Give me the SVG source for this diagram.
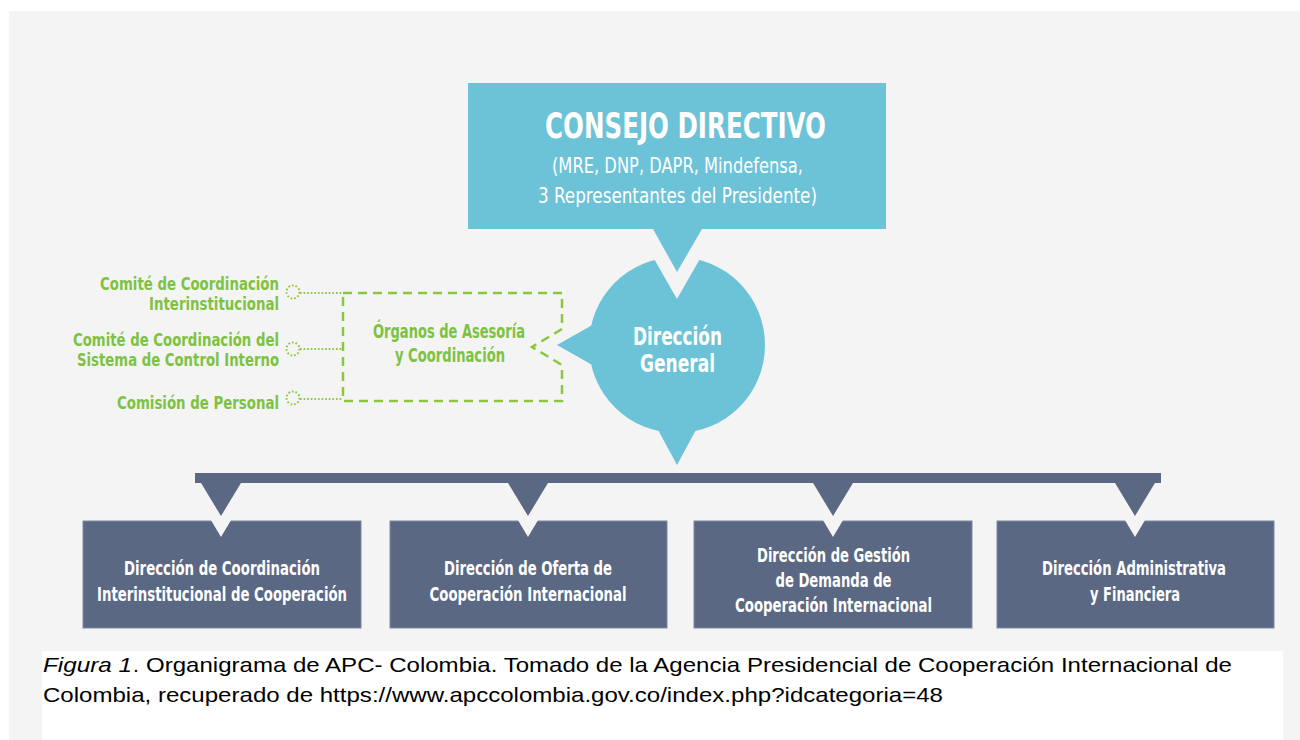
<svg xmlns="http://www.w3.org/2000/svg" width="1300" height="740" viewBox="0 0 1300 740">
<style>
.teal{fill:#6cc3d8}
.dark{fill:#5b6883}
.bg{fill:#f4f4f4}
.cond{font-family:'Liberation Sans Narrow','DejaVu Sans Condensed','Liberation Sans',sans-serif;font-weight:bold}
.white{fill:#ffffff}
.green{fill:#7dc242}
.box{fill:#5b6883;stroke:#7e89a0;stroke-width:1}
.dash{fill:none;stroke:#8cc63f;stroke-width:2.5;stroke-dasharray:9 6}
.dot{fill:none;stroke:#8cc63f;stroke-width:2;stroke-dasharray:1.6 2}
.cap{font-family:'Liberation Sans',Arial,sans-serif;font-size:21px;fill:#000}
</style>
<rect x="0" y="0" width="1300" height="740" fill="#ffffff"/>
<rect x="9" y="11" width="1291" height="729" class="bg"/>

<g id="direccion-general">
<circle cx="677" cy="345" r="88" class="teal"/>
<polygon points="557,345 610,315 610,375" class="teal"/>
<polygon points="677,465 650,415 704,415" class="teal"/>
<polygon points="637,229 717,229 677,299" class="bg"/>
<text x="677.5" y="345" text-anchor="middle" class="cond white" font-size="25" textLength="89" lengthAdjust="spacingAndGlyphs">Dirección</text>
<text x="677.5" y="372" text-anchor="middle" class="cond white" font-size="25" textLength="75" lengthAdjust="spacingAndGlyphs">General</text>
</g>

<g id="consejo-directivo">
<path d="M468,83 H886 V229 H702 L677,272 L653,229 H468 Z" class="teal"/>
<text x="685.5" y="138" text-anchor="middle" class="cond white" font-size="36" textLength="281" lengthAdjust="spacingAndGlyphs">CONSEJO DIRECTIVO</text>
<text x="677.5" y="173" text-anchor="middle" class="cond white" font-size="21" style="font-weight:normal" textLength="251" lengthAdjust="spacingAndGlyphs">(MRE, DNP, DAPR, Mindefensa,</text>
<text x="677.5" y="203" text-anchor="middle" class="cond white" font-size="21" style="font-weight:normal" textLength="279" lengthAdjust="spacingAndGlyphs">3 Representantes del Presidente)</text>
</g>

<g id="organos">
<path d="M343,293 H562 V329 L532,347 L562,365 V401 H343 Z" class="dash"/>
<text x="449" y="338" text-anchor="middle" class="cond green" font-size="19" textLength="152" lengthAdjust="spacingAndGlyphs">Órganos de Asesoría</text>
<text x="450" y="362" text-anchor="middle" class="cond green" font-size="19" textLength="110" lengthAdjust="spacingAndGlyphs">y Coordinación</text>
</g>

<g id="comite-interinstitucional">
<text x="279" y="290" text-anchor="end" class="cond green" font-size="18" textLength="179" lengthAdjust="spacingAndGlyphs">Comité de Coordinación</text>
<text x="279" y="310" text-anchor="end" class="cond green" font-size="18" textLength="130" lengthAdjust="spacingAndGlyphs">Interinstitucional</text>
</g>
<g id="comite-control-interno">
<text x="279" y="346" text-anchor="end" class="cond green" font-size="18" textLength="206" lengthAdjust="spacingAndGlyphs">Comité de Coordinación del</text>
<text x="279" y="366" text-anchor="end" class="cond green" font-size="18" textLength="202" lengthAdjust="spacingAndGlyphs">Sistema de Control Interno</text>
</g>
<g id="comision-personal">
<text x="279" y="409" text-anchor="end" class="cond green" font-size="18" textLength="162" lengthAdjust="spacingAndGlyphs">Comisión de Personal</text>
</g>

<g id="direccion-coordinacion">
<rect x="83" y="521" width="278" height="107" class="box"/>
<text x="222" y="575" text-anchor="middle" class="cond white" font-size="19" textLength="196" lengthAdjust="spacingAndGlyphs">Dirección de Coordinación</text>
<text x="222" y="601" text-anchor="middle" class="cond white" font-size="19" textLength="250" lengthAdjust="spacingAndGlyphs">Interinstitucional de Cooperación</text>
</g>
<g id="direccion-oferta">
<rect x="390" y="521" width="277" height="107" class="box"/>
<text x="528" y="575" text-anchor="middle" class="cond white" font-size="19" textLength="168" lengthAdjust="spacingAndGlyphs">Dirección de Oferta de</text>
<text x="528" y="601" text-anchor="middle" class="cond white" font-size="19" textLength="197" lengthAdjust="spacingAndGlyphs">Cooperación Internacional</text>
</g>
<g id="direccion-demanda">
<rect x="694" y="521" width="278" height="107" class="box"/>
<text x="833.5" y="562" text-anchor="middle" class="cond white" font-size="19" textLength="153" lengthAdjust="spacingAndGlyphs">Dirección de Gestión</text>
<text x="833.5" y="587" text-anchor="middle" class="cond white" font-size="19" textLength="116" lengthAdjust="spacingAndGlyphs">de Demanda de</text>
<text x="833.5" y="612" text-anchor="middle" class="cond white" font-size="19" textLength="197" lengthAdjust="spacingAndGlyphs">Cooperación Internacional</text>
</g>
<g id="direccion-administrativa">
<rect x="997" y="521" width="277" height="107" class="box"/>
<text x="1134" y="575" text-anchor="middle" class="cond white" font-size="19" textLength="184" lengthAdjust="spacingAndGlyphs">Dirección Administrativa</text>
<text x="1135" y="601" text-anchor="middle" class="cond white" font-size="19" textLength="90" lengthAdjust="spacingAndGlyphs">y Financiera</text>
</g>

<g id="connectors">
<circle cx="293" cy="292" r="6.5" class="dot"/>
<circle cx="293" cy="349" r="6.5" class="dot"/>
<circle cx="293" cy="398" r="6.5" class="dot"/>
<line x1="300" y1="293" x2="343" y2="293" class="dot"/>
<line x1="300" y1="349" x2="343" y2="349" class="dot"/>
<line x1="300" y1="399" x2="343" y2="399" class="dot"/>
<polygon points="199,500 243,500 221,537" class="bg"/>
<polygon points="506,500 550,500 528,537" class="bg"/>
<polygon points="811,500 855,500 833,537" class="bg"/>
<polygon points="1113,500 1157,500 1135,537" class="bg"/>
<rect x="195" y="473" width="966" height="10" class="dark"/>
<polygon points="195,473 247,473 221,516" class="dark"/>
<polygon points="502,473 554,473 528,516" class="dark"/>
<polygon points="807,473 859,473 833,516" class="dark"/>
<polygon points="1109,473 1161,473 1135,516" class="dark"/>
</g>

<g id="caption">
<rect x="42" y="651" width="1241" height="89" fill="#ffffff"/>
<text x="43" y="672" class="cap" font-style="italic" textLength="89" lengthAdjust="spacingAndGlyphs">Figura 1</text>
<text x="133" y="672" class="cap">.</text>
<text x="146" y="672" class="cap" textLength="1086" lengthAdjust="spacingAndGlyphs">Organigrama de APC- Colombia. Tomado de la Agencia Presidencial de Cooperación Internacional de</text>
<text x="43" y="702" class="cap" textLength="900" lengthAdjust="spacingAndGlyphs">Colombia, recuperado de https://www.apccolombia.gov.co/index.php?idcategoria=48</text>
</g>
</svg>
